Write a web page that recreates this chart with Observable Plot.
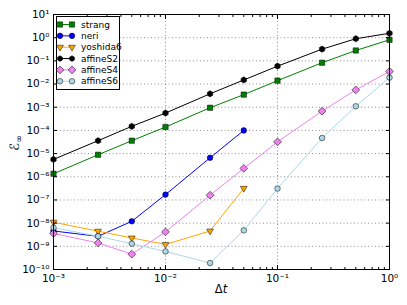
<!DOCTYPE html>
<html><head><meta charset="utf-8">
<script src="https://cdn.jsdelivr.net/npm/d3@7"></script>
<script src="https://cdn.jsdelivr.net/npm/@observablehq/plot@0.6"></script>
<style>body{margin:0;background:#fff;font-family:"DejaVu Sans",sans-serif}</style>
</head><body><div id="chart"></div>
<script>
const dt = [0.001, 0.0025, 0.005, 0.01, 0.025, 0.05, 0.1, 0.25, 0.5, 1];
const strang   = [1.35e-6, 8.9e-6, 3.6e-5, 1.4e-4, 9.5e-4, 3.5e-3, 1.4e-2, 8.3e-2, 0.28, 0.81];
const neri     = [4.6e-9, 2.7e-9, 1.2e-8, 1.7e-7, 6.6e-6, 1.0e-4];
const yoshida6 = [1.1e-8, 4.5e-9, 2.3e-9, 1.2e-9, 4.6e-9, 3.2e-7];
const affineS2 = [5.6e-6, 3.6e-5, 1.5e-4, 5.6e-4, 3.8e-3, 1.5e-2, 5.9e-2, 0.32, 0.9, 1.55];
const affineS4 = [3.6e-9, 1.4e-9, 4.6e-10, 4.2e-9, 1.6e-7, 2.3e-6, 3.2e-5, 6.8e-4, 5.6e-3, 3.5e-2];
const affineS6 = [6.4e-9, 2.7e-9, 1.3e-9, 6.0e-10, 1.9e-10, 4.9e-9, 3.1e-7, 4.7e-5, 1.1e-3, 1.9e-2];
const seriesNames = ["strang", "neri", "yoshida6", "affineS2", "affineS4", "affineS6"];
const seriesValues = [strang, neri, yoshida6, affineS2, affineS4, affineS6];
const xTicks = [1e-3, 1e-2, 1e-1, 1];
const yTicks = [1e1, 1e0, 1e-1, 1e-2, 1e-3, 1e-4, 1e-5, 1e-6, 1e-7, 1e-8, 1e-9, 1e-10];

const styles = {
  strang:   {color: "#008000", symbol: "square", r: 3, rotate: 0},
  neri:     {color: "#0000ff", symbol: "circle", r: 2.8, rotate: 0},
  yoshida6: {color: "#ffa500", symbol: "triangle", r: 2.5, rotate: 180},
  affineS2: {color: "#000000", symbol: "hexagon", r: 2.7, rotate: 0},
  affineS4: {color: "#ee82ee", symbol: "square", r: 3.1, rotate: 45},
  affineS6: {color: "#add8e6", symbol: "circle", r: 2.8, rotate: 0}
};

const sup = s => String(s).replace(/[-0-9]/g, c => ({"-":"⁻","0":"⁰","1":"¹","2":"²","3":"³","4":"⁴","5":"⁵","6":"⁶","7":"⁷","8":"⁸","9":"⁹"})[c]);
const fmt = v => "10" + sup(Math.round(Math.log10(v)));

const minorX = [];
for (let e = -3; e < 0; e++) for (let k = 2; k <= 9; k++) minorX.push(k * Math.pow(10, e));

const rows = [];
seriesNames.forEach((n, i) => seriesValues[i].forEach((v, j) => rows.push({name: n, x: dt[j], y: v})));

const marks = [
  Plot.gridX(xTicks, {stroke: "#000", strokeOpacity: 0.55, strokeDasharray: "1,2.5", strokeWidth: 0.8}),
  Plot.gridY(yTicks, {stroke: "#000", strokeOpacity: 0.55, strokeDasharray: "1,2.5", strokeWidth: 0.8}),
];
seriesNames.forEach(n => {
  const st = styles[n];
  const d = rows.filter(r => r.name === n);
  marks.push(Plot.line(d, {x: "x", y: "y", stroke: st.color, strokeWidth: 1}));
  marks.push(Plot.dot(d, {x: "x", y: "y", symbol: st.symbol, r: st.r, rotate: st.rotate, fill: st.color, stroke: "#000", strokeWidth: 0.5}));
});
marks.push(
  Plot.axisX(xTicks, {anchor: "bottom", tickSize: 0, tickPadding: 5, tickFormat: fmt, fontSize: 10.5}),
  Plot.axisX(xTicks, {anchor: "bottom", tickSize: -4, tickFormat: () => ""}),
  Plot.axisX(xTicks, {anchor: "top", tickSize: -4, tickFormat: () => ""}),
  Plot.axisX(minorX, {anchor: "bottom", tickSize: -2, tickFormat: () => ""}),
  Plot.axisX(minorX, {anchor: "top", tickSize: -2, tickFormat: () => ""}),
  Plot.axisY(yTicks, {anchor: "left", tickSize: 0, tickPadding: 4, tickFormat: fmt, fontSize: 10.5}),
  Plot.axisY(yTicks, {anchor: "left", tickSize: -4, tickFormat: () => ""}),
  Plot.axisY(yTicks, {anchor: "right", tickSize: -4, tickFormat: () => ""}),
  Plot.frame({stroke: "#000", strokeWidth: 1})
);

const chart = Plot.plot({
  width: 407, height: 305,
  marginLeft: 53, marginRight: 18, marginTop: 14, marginBottom: 36,
  style: {fontFamily: "DejaVu Sans, sans-serif", background: "#fff", color: "#000"},
  x: {type: "log", domain: [1e-3, 1], label: null, axis: null},
  y: {type: "log", domain: [1e-10, 10], label: null, axis: null},
  marks
});
document.getElementById("chart").appendChild(chart);

const svg = d3.select(chart);
// axis labels
const xl = svg.append("text").attr("x", 221).attr("y", 293).style("text-anchor", "middle")
  .attr("font-size", 11.5).attr("font-family", "DejaVu Sans, sans-serif").attr("fill", "#000");
xl.append("tspan").text("Δ");
xl.append("tspan").attr("font-style", "italic").text("t");
const yl = svg.append("text").attr("transform", "translate(19,143) rotate(-90)").style("text-anchor", "middle")
  .attr("font-size", 13).attr("font-family", "DejaVu Sans, sans-serif").attr("fill", "#000");
yl.append("tspan").attr("font-style", "italic").text("ℰ");
yl.append("tspan").attr("font-size", 9).attr("dy", 3).text("∞");

// legend
const lg = svg.append("g");
lg.append("rect").attr("x", 56.5).attr("y", 16.5).attr("width", 63).attr("height", 73)
  .style("fill", "#fff").style("stroke", "#000").style("stroke-width", 1);
const symGen = {
  square: d3.symbolSquare, circle: d3.symbolCircle, triangle: d3.symbolTriangle
};
seriesNames.forEach((n, i) => {
  const st = styles[n];
  const y = 24.5 + i * 11.35;
  lg.append("line").attr("x1", 60).attr("x2", 72).attr("y1", y).attr("y2", y)
    .style("stroke", st.color).style("stroke-width", 1);
  [60, 72].forEach(x => {
    let path;
    if (st.symbol === "hexagon") {
      const r = st.r * 1.05;
      path = d3.range(6).map(k => { const a = Math.PI / 3 * k + Math.PI / 6; return [r * Math.cos(a), r * Math.sin(a)]; });
      path = "M" + path.map(p => p.join(",")).join("L") + "Z";
    } else {
      path = d3.symbol(symGen[st.symbol], Math.PI * st.r * st.r)();
    }
    lg.append("path").attr("d", path)
      .attr("transform", `translate(${x},${y}) rotate(${st.rotate})`)
      .style("fill", st.color).style("stroke", "#000").style("stroke-width", 0.5);
  });
  lg.append("text").attr("x", 81).attr("y", y).attr("dy", "0.35em").style("text-anchor", "start")
    .attr("font-size", 9).attr("font-family", "DejaVu Sans, sans-serif").attr("fill", "#000").text(n);
});
</script></body></html>
